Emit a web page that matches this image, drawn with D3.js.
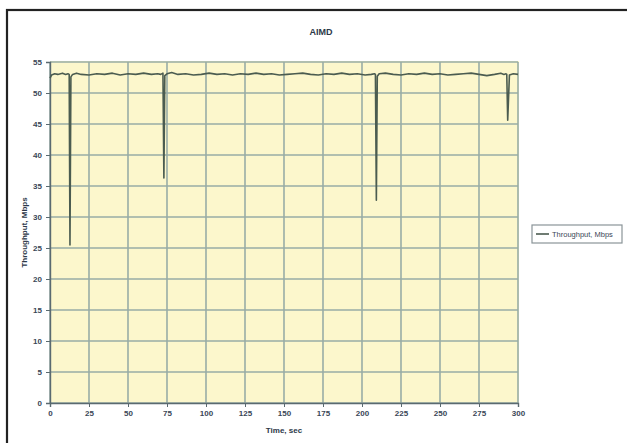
<!DOCTYPE html>
<html>
<head>
<meta charset="utf-8">
<script src="https://cdn.jsdelivr.net/npm/d3@7"></script>
<style>
  html, body { margin: 0; padding: 0; background: #ffffff; }
  svg { display: block; font-family: "Liberation Sans", Arial, sans-serif; }
</style>
</head>
<body>
<svg id="chart" width="627" height="443"></svg>
<script>
// Throughput samples (seconds, Mbps)
const times = [0, 1, 3, 5, 8, 10, 11.5, 12.3, 12.8, 13.4, 14.5, 17, 20, 25, 30, 35, 40, 45, 50, 55, 60, 65,
  69, 71, 72.4, 73, 73.6, 75, 78, 82, 87, 92, 97, 102, 107, 112, 117, 122, 127, 132, 137, 142, 147,
  152, 157, 162, 167, 172, 177, 182, 187, 192, 197, 202, 206, 208, 208.6, 209.2, 209.8, 211, 215,
  220, 225, 230, 235, 240, 245, 250, 255, 260, 265, 270, 275, 280, 285, 289, 291, 292.3, 292.8,
  293.4, 294.5, 297, 300];
const throughput = [52.4, 52.9, 53.1, 53.0, 53.2, 53.0, 53.1, 53.0, 25.5, 52.6, 53.0, 53.2, 53.0, 52.9, 53.1, 53.0, 53.2, 52.9, 53.1, 53.0, 53.2, 53.0,
  53.1, 53.0, 53.2, 36.3, 52.8, 53.1, 53.3, 53.0, 53.1, 52.9, 53.0, 53.2, 53.0, 53.1, 52.9, 53.1, 53.0, 53.2, 53.0, 53.1, 52.9,
  53.0, 53.1, 53.2, 53.0, 52.9, 53.1, 53.0, 53.2, 53.0, 53.1, 52.9, 53.0, 53.1, 53.0, 32.7, 52.7, 53.1, 53.2,
  53.0, 52.9, 53.1, 53.0, 53.2, 53.0, 53.1, 52.9, 53.0, 53.1, 53.2, 53.0, 52.8, 53.0, 53.2, 53.0, 53.1, 53.0,
  45.6, 52.9, 53.1, 53.0];

const xTicks = [0, 25, 50, 75, 100, 125, 150, 175, 200, 225, 250, 275, 300];
const yTicks = [0, 5, 10, 15, 20, 25, 30, 35, 40, 45, 50, 55];

const chartTitle = "AIMD";
const xTitle = "Time, sec";
const yTitle = "Throughput, Mbps";
const seriesName = "Throughput, Mbps";

const svg = d3.select("#chart");

// outer chart frame
svg.append("rect")
  .attr("x", 7).attr("y", 10)
  .attr("width", 660).attr("height", 460)
  .attr("fill", "#ffffff")
  .attr("stroke", "#222222")
  .attr("stroke-width", 2.2);

const x = d3.scaleLinear().domain([0, 300]).range([50, 518]);
const y = d3.scaleLinear().domain([0, 55]).range([403, 62]);

// plot area background
svg.append("rect")
  .attr("x", x(0)).attr("y", y(55) - 1)
  .attr("width", x(300) - x(0) + 1).attr("height", y(0) - y(55) + 2)
  .attr("fill", "#fcf7cc");

const gridColor = "#98aca6";

// horizontal gridlines
svg.append("g").selectAll("line").data(yTicks).join("line")
  .attr("x1", x(0)).attr("x2", x(300))
  .attr("y1", d => y(d)).attr("y2", d => y(d))
  .attr("stroke", gridColor).attr("stroke-width", 1.6);

// vertical gridlines
svg.append("g").selectAll("line").data(xTicks).join("line")
  .attr("x1", d => x(d)).attr("x2", d => x(d))
  .attr("y1", y(55)).attr("y2", y(0))
  .attr("stroke", gridColor).attr("stroke-width", 1.6);

const labelColor = "#3a4656";

// y axis
const yAxis = d3.axisLeft(y).tickValues(yTicks).tickSize(4).tickPadding(4);
const gy = svg.append("g").attr("transform", `translate(${x(0)},0)`).call(yAxis);
gy.select(".domain").attr("stroke", "#5a6a70").attr("stroke-width", 1.4);
gy.selectAll(".tick line").attr("stroke", "#5a6a70");
gy.selectAll(".tick text").attr("fill", labelColor).attr("font-size", 8)
  .attr("font-family", "Liberation Sans, Arial, sans-serif").attr("font-weight", "bold");

// x axis
const xAxis = d3.axisBottom(x).tickValues(xTicks).tickSize(4).tickPadding(3);
const gx = svg.append("g").attr("transform", `translate(0,${y(0)})`).call(xAxis);
gx.select(".domain").attr("stroke", "#5a6a70").attr("stroke-width", 1.4);
gx.selectAll(".tick line").attr("stroke", "#5a6a70");
gx.selectAll(".tick text").attr("fill", labelColor).attr("font-size", 8)
  .attr("font-family", "Liberation Sans, Arial, sans-serif").attr("font-weight", "bold");

// throughput series
const pts = times.map((t, i) => [t, throughput[i]]);
svg.append("path")
  .datum(pts)
  .attr("fill", "none")
  .attr("stroke", "#4b5c50")
  .attr("stroke-width", 1.6)
  .attr("stroke-linejoin", "round")
  .attr("d", d3.line().x(d => x(d[0])).y(d => y(d[1])));

// titles
svg.append("text")
  .attr("x", 321).attr("y", 35)
  .attr("text-anchor", "middle")
  .attr("font-size", 9).attr("font-weight", "bold")
  .attr("fill", "#2c3848")
  .text(chartTitle);

svg.append("text")
  .attr("x", 284).attr("y", 433)
  .attr("text-anchor", "middle")
  .attr("font-size", 8).attr("font-weight", "bold")
  .attr("fill", "#2c3848")
  .text(xTitle);

svg.append("text")
  .attr("transform", `translate(27,${(y(0) + y(55)) / 2}) rotate(-90)`)
  .attr("text-anchor", "middle")
  .attr("font-size", 8).attr("font-weight", "bold")
  .attr("fill", "#2c3848")
  .text(yTitle);

// legend
const lg = svg.append("g").attr("transform", "translate(532,225)");
lg.append("rect")
  .attr("width", 90).attr("height", 18)
  .attr("fill", "#ffffff")
  .attr("stroke", "#8a9498").attr("stroke-width", 1.2);
lg.append("line")
  .attr("x1", 4).attr("x2", 17).attr("y1", 9).attr("y2", 9)
  .attr("stroke", "#4b5c50").attr("stroke-width", 1.6);
lg.append("text")
  .attr("x", 20).attr("y", 12)
  .attr("font-size", 7.5)
  .attr("fill", "#3a4656")
  .text(seriesName);
</script>
</body>
</html>
